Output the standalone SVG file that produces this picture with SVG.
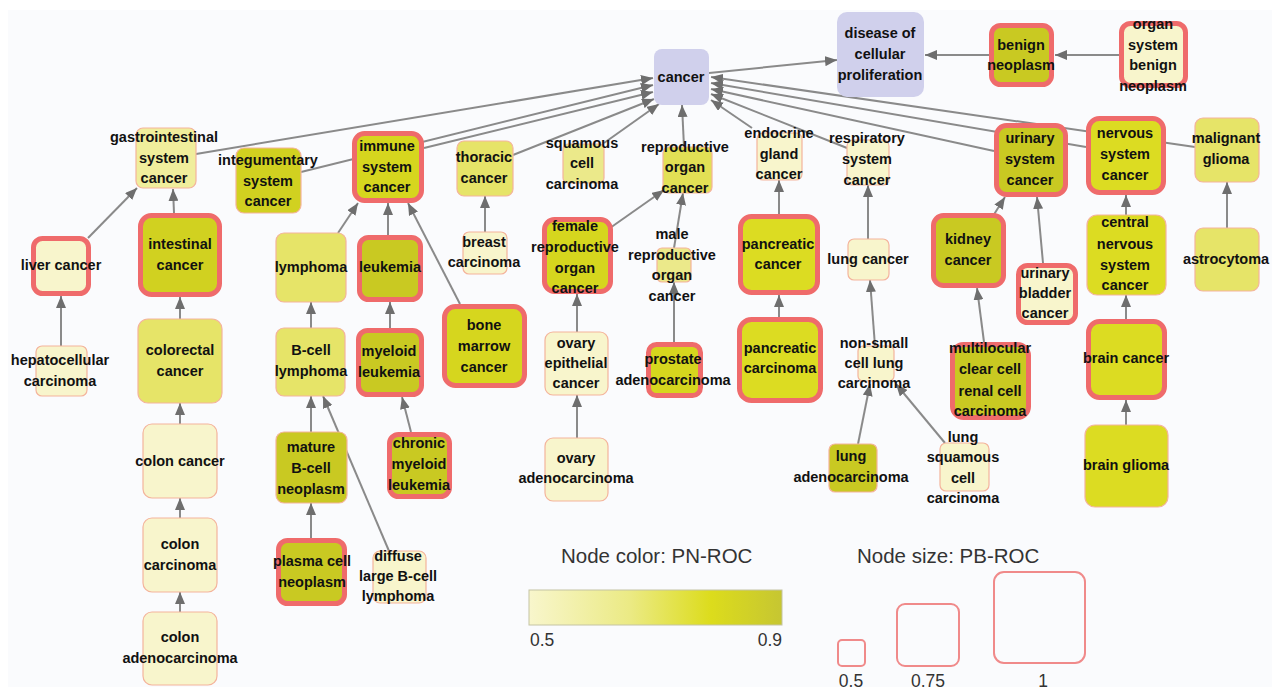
<svg xmlns="http://www.w3.org/2000/svg" width="1277" height="689" viewBox="0 0 1277 689">
<defs>
<style>
.lav{fill:#d0d0ec;stroke:none}
.thin{stroke:#f4b49c;stroke-width:1.2}
.thick{stroke:#ef6b6b;stroke-width:5}
.f0{fill:#f8f5cc}.f1{fill:#f0ee9c}.f2{fill:#ebe98a}.f3{fill:#e6e468}.f4{fill:#e2e055}.f5{fill:#dcdc22}.f6{fill:#d6d61e}.f7{fill:#c9c922}.f8{fill:#d1d120}
.t{font-family:"Liberation Sans",Arial,sans-serif;font-weight:bold;font-size:14.5px;fill:#111;text-anchor:middle}
.lg{font-family:"Liberation Sans",Arial,sans-serif;fill:#333}
#edges line{stroke:#8a8a8a;stroke-width:2;marker-end:url(#ah)}
.sz{fill:none;stroke:#f08a8a;stroke-width:2}
</style>
<marker id="ah" viewBox="0 0 12 10" refX="12" refY="5" markerWidth="12" markerHeight="10" markerUnits="userSpaceOnUse" orient="auto"><path d="M0,0 L12,5 L0,10 z" fill="#6e6e6e"/></marker>
<linearGradient id="grad" x1="0" y1="0" x2="1" y2="0">
<stop offset="0" stop-color="#f8f6cc"/><stop offset="0.4" stop-color="#ebea84"/><stop offset="0.72" stop-color="#dcdc1c"/><stop offset="1" stop-color="#c6c632"/>
</linearGradient>
</defs>
<rect x="0" y="0" width="1277" height="689" fill="#ffffff"/>
<rect x="8" y="10" width="1264" height="677" fill="#fafbfd"/>
<g id="edges">
<line x1="709" y1="73" x2="837" y2="60"/>
<line x1="989" y1="55" x2="925" y2="55"/>
<line x1="1119" y1="55" x2="1055" y2="55"/>
<line x1="196" y1="154" x2="653" y2="78"/>
<line x1="301" y1="172" x2="653" y2="85"/>
<line x1="424" y1="148" x2="653" y2="92"/>
<line x1="513" y1="155" x2="654" y2="99"/>
<line x1="604" y1="143" x2="659" y2="104"/>
<line x1="684" y1="147" x2="682" y2="105"/>
<line x1="752" y1="128" x2="711" y2="100"/>
<line x1="847" y1="148" x2="711" y2="94"/>
<line x1="994" y1="151" x2="711" y2="89"/>
<line x1="1086" y1="147" x2="711" y2="83"/>
<line x1="1195" y1="147" x2="711" y2="77"/>
<line x1="174" y1="213" x2="173" y2="189"/>
<line x1="88" y1="238" x2="137" y2="188"/>
<line x1="61" y1="346" x2="61" y2="296"/>
<line x1="180" y1="319" x2="180" y2="297"/>
<line x1="180" y1="424" x2="180" y2="403"/>
<line x1="180" y1="518" x2="180" y2="498"/>
<line x1="180" y1="612" x2="180" y2="592"/>
<line x1="338" y1="233" x2="358" y2="203"/>
<line x1="388" y1="235" x2="388" y2="203"/>
<line x1="460" y1="304" x2="408" y2="203"/>
<line x1="311" y1="328" x2="311" y2="302"/>
<line x1="390" y1="328" x2="390" y2="302"/>
<line x1="411" y1="432" x2="402" y2="397"/>
<line x1="311" y1="432" x2="311" y2="396"/>
<line x1="311" y1="538" x2="311" y2="503"/>
<line x1="389" y1="551" x2="323" y2="396"/>
<line x1="485" y1="232" x2="485" y2="196"/>
<line x1="610" y1="228" x2="664" y2="190"/>
<line x1="674" y1="248" x2="683" y2="193"/>
<line x1="674" y1="342" x2="674" y2="282"/>
<line x1="577" y1="332" x2="577" y2="294"/>
<line x1="577" y1="438" x2="577" y2="395"/>
<line x1="779" y1="214" x2="779" y2="180"/>
<line x1="779" y1="317" x2="779" y2="295"/>
<line x1="868" y1="239" x2="868" y2="185"/>
<line x1="875" y1="346" x2="870" y2="280"/>
<line x1="858" y1="444" x2="870" y2="384"/>
<line x1="945" y1="443" x2="896" y2="384"/>
<line x1="993" y1="216" x2="1005" y2="197"/>
<line x1="1043" y1="263" x2="1037" y2="197"/>
<line x1="984" y1="342" x2="977" y2="288"/>
<line x1="1126" y1="215" x2="1126" y2="195"/>
<line x1="1126" y1="319" x2="1126" y2="295"/>
<line x1="1126" y1="425" x2="1126" y2="400"/>
<line x1="1227" y1="228" x2="1227" y2="182"/>
</g>
<g id="n-cancer"><rect class="lav" x="654" y="49" width="55" height="56" rx="8"/><text class="t"><tspan x="681" y="82">cancer</tspan></text></g>
<g id="n-disease"><rect class="lav" x="837" y="12" width="87" height="85" rx="10"/><text class="t"><tspan x="880" y="38">disease of</tspan><tspan x="880" y="59">cellular</tspan><tspan x="880" y="80">proliferation</tspan></text></g>
<g id="n-benign"><rect class="f7 thick" x="991.5" y="25.5" width="60" height="59" rx="9"/><text class="t"><tspan x="1021" y="50">benign</tspan><tspan x="1021" y="70">neoplasm</tspan></text></g>
<g id="n-organsys"><rect class="f0 thick" x="1121.5" y="23.5" width="64" height="62" rx="9"/><text class="t"><tspan x="1153" y="29">organ</tspan><tspan x="1153" y="50">system</tspan><tspan x="1153" y="70">benign</tspan><tspan x="1153" y="91">neoplasm</tspan></text></g>
<g id="n-gastro"><rect class="f1 thin" x="136" y="128" width="60" height="60" rx="7"/><text class="t"><tspan x="164" y="142">gastrointestinal</tspan><tspan x="164" y="163">system</tspan><tspan x="164" y="183">cancer</tspan></text></g>
<g id="n-integ"><rect class="f8 thin" x="236" y="148" width="65" height="65" rx="8"/><text class="t"><tspan x="268" y="165">integumentary</tspan><tspan x="268" y="186">system</tspan><tspan x="268" y="206">cancer</tspan></text></g>
<g id="n-immune"><rect class="f6 thick" x="354.5" y="133.5" width="67" height="67" rx="10"/><text class="t"><tspan x="387" y="151">immune</tspan><tspan x="387" y="172">system</tspan><tspan x="387" y="192">cancer</tspan></text></g>
<g id="n-thoracic"><rect class="f3 thin" x="457" y="141" width="56" height="55" rx="7"/><text class="t"><tspan x="484" y="162">thoracic</tspan><tspan x="484" y="183">cancer</tspan></text></g>
<g id="n-squamous"><rect class="f2 thin" x="563" y="144" width="41" height="39" rx="5"/><text class="t"><tspan x="582" y="148">squamous</tspan><tspan x="582" y="168">cell</tspan><tspan x="582" y="189">carcinoma</tspan></text></g>
<g id="n-reproductive"><rect class="f4 thin" x="663" y="147" width="49" height="46" rx="6"/><text class="t"><tspan x="685" y="152">reproductive</tspan><tspan x="685" y="172">organ</tspan><tspan x="685" y="193">cancer</tspan></text></g>
<g id="n-endocrine"><rect class="f0 thin" x="757" y="133" width="45" height="47" rx="6"/><text class="t"><tspan x="779" y="138">endocrine</tspan><tspan x="779" y="159">gland</tspan><tspan x="779" y="179">cancer</tspan></text></g>
<g id="n-respiratory"><rect class="f0 thin" x="847" y="140" width="42" height="45" rx="6"/><text class="t"><tspan x="867" y="143">respiratory</tspan><tspan x="867" y="164">system</tspan><tspan x="867" y="185">cancer</tspan></text></g>
<g id="n-urinary"><rect class="f7 thick" x="996.5" y="125.5" width="69" height="69" rx="10"/><text class="t"><tspan x="1030" y="143">urinary</tspan><tspan x="1030" y="164">system</tspan><tspan x="1030" y="185">cancer</tspan></text></g>
<g id="n-nervous"><rect class="f5 thick" x="1088.5" y="118.5" width="75" height="74" rx="11"/><text class="t"><tspan x="1125" y="138">nervous</tspan><tspan x="1125" y="159">system</tspan><tspan x="1125" y="180">cancer</tspan></text></g>
<g id="n-malignant"><rect class="f3 thin" x="1195" y="118" width="64" height="64" rx="8"/><text class="t"><tspan x="1226" y="143">malignant</tspan><tspan x="1226" y="164">glioma</tspan></text></g>
<g id="n-liver"><rect class="f0 thick" x="33.5" y="238.5" width="55" height="55" rx="9"/><text class="t"><tspan x="61" y="270">liver cancer</tspan></text></g>
<g id="n-intestinal"><rect class="f8 thick" x="140.5" y="215.5" width="79" height="79" rx="11"/><text class="t"><tspan x="180" y="249">intestinal</tspan><tspan x="180" y="270">cancer</tspan></text></g>
<g id="n-hepato"><rect class="f0 thin" x="36" y="346" width="51" height="50" rx="6"/><text class="t"><tspan x="60" y="365">hepatocellular</tspan><tspan x="60" y="386">carcinoma</tspan></text></g>
<g id="n-colorectal"><rect class="f3 thin" x="138" y="319" width="84" height="84" rx="10"/><text class="t"><tspan x="180" y="355">colorectal</tspan><tspan x="180" y="376">cancer</tspan></text></g>
<g id="n-coloncancer"><rect class="f0 thin" x="143" y="424" width="74" height="74" rx="9"/><text class="t"><tspan x="180" y="466">colon cancer</tspan></text></g>
<g id="n-coloncarcinoma"><rect class="f0 thin" x="143" y="518" width="74" height="74" rx="9"/><text class="t"><tspan x="180" y="549">colon</tspan><tspan x="180" y="570">carcinoma</tspan></text></g>
<g id="n-colonadeno"><rect class="f0 thin" x="143" y="612" width="74" height="73" rx="9"/><text class="t"><tspan x="180" y="642">colon</tspan><tspan x="180" y="663">adenocarcinoma</tspan></text></g>
<g id="n-lymphoma"><rect class="f3 thin" x="276" y="233" width="70" height="69" rx="8"/><text class="t"><tspan x="311" y="272">lymphoma</tspan></text></g>
<g id="n-leukemia"><rect class="f7 thick" x="359.5" y="237.5" width="61" height="62" rx="9"/><text class="t"><tspan x="390" y="272">leukemia</tspan></text></g>
<g id="n-bcell"><rect class="f3 thin" x="276" y="328" width="69" height="68" rx="8"/><text class="t"><tspan x="311" y="355">B-cell</tspan><tspan x="311" y="376">lymphoma</tspan></text></g>
<g id="n-myeloid"><rect class="f7 thick" x="358.5" y="330.5" width="63" height="64" rx="9"/><text class="t"><tspan x="389" y="356">myeloid</tspan><tspan x="389" y="377">leukemia</tspan></text></g>
<g id="n-bonemarrow"><rect class="f6 thick" x="444.5" y="306.5" width="80" height="79" rx="11"/><text class="t"><tspan x="484" y="330">bone</tspan><tspan x="484" y="351">marrow</tspan><tspan x="484" y="372">cancer</tspan></text></g>
<g id="n-breast"><rect class="f0 thin" x="463" y="232" width="44" height="42" rx="6"/><text class="t"><tspan x="484" y="247">breast</tspan><tspan x="484" y="267">carcinoma</tspan></text></g>
<g id="n-female"><rect class="f6 thick" x="544.5" y="219.5" width="66" height="72" rx="10"/><text class="t"><tspan x="575" y="231">female</tspan><tspan x="575" y="252">reproductive</tspan><tspan x="575" y="273">organ</tspan><tspan x="575" y="293">cancer</tspan></text></g>
<g id="n-ovaryepi"><rect class="f0 thin" x="545" y="332" width="63" height="63" rx="8"/><text class="t"><tspan x="576" y="348">ovary</tspan><tspan x="576" y="368">epithelial</tspan><tspan x="576" y="388">cancer</tspan></text></g>
<g id="n-ovaryadeno"><rect class="f0 thin" x="545" y="438" width="63" height="63" rx="8"/><text class="t"><tspan x="576" y="463">ovary</tspan><tspan x="576" y="483">adenocarcinoma</tspan></text></g>
<g id="n-chronic"><rect class="f7 thick" x="389.5" y="434.5" width="60" height="62" rx="9"/><text class="t"><tspan x="419" y="448">chronic</tspan><tspan x="419" y="469">myeloid</tspan><tspan x="419" y="490">leukemia</tspan></text></g>
<g id="n-mature"><rect class="f7 thin" x="276" y="432" width="71" height="71" rx="8"/><text class="t"><tspan x="311" y="452">mature</tspan><tspan x="311" y="473">B-cell</tspan><tspan x="311" y="494">neoplasm</tspan></text></g>
<g id="n-plasma"><rect class="f7 thick" x="278.5" y="540.5" width="66" height="63" rx="9"/><text class="t"><tspan x="312" y="566">plasma cell</tspan><tspan x="312" y="587">neoplasm</tspan></text></g>
<g id="n-diffuse"><rect class="f0 thin" x="373" y="551" width="53" height="52" rx="7"/><text class="t"><tspan x="398" y="561">diffuse</tspan><tspan x="398" y="581">large B-cell</tspan><tspan x="398" y="601">lymphoma</tspan></text></g>
<g id="n-male"><rect class="f2 thin" x="657" y="248" width="34" height="34" rx="5"/><text class="t"><tspan x="672" y="239">male</tspan><tspan x="672" y="260">reproductive</tspan><tspan x="672" y="280">organ</tspan><tspan x="672" y="301">cancer</tspan></text></g>
<g id="n-pancancer"><rect class="f5 thick" x="740.5" y="216.5" width="77" height="76" rx="11"/><text class="t"><tspan x="778" y="249">pancreatic</tspan><tspan x="778" y="269">cancer</tspan></text></g>
<g id="n-pancarcinoma"><rect class="f5 thick" x="739.5" y="319.5" width="81" height="81" rx="12"/><text class="t"><tspan x="780" y="353">pancreatic</tspan><tspan x="780" y="373">carcinoma</tspan></text></g>
<g id="n-prostate"><rect class="f6 thick" x="648.5" y="344.5" width="52" height="51" rx="8"/><text class="t"><tspan x="673" y="364">prostate</tspan><tspan x="673" y="385">adenocarcinoma</tspan></text></g>
<g id="n-lungcancer"><rect class="f0 thin" x="848" y="239" width="41" height="41" rx="6"/><text class="t"><tspan x="868" y="264">lung cancer</tspan></text></g>
<g id="n-nonsmall"><rect class="f0 thin" x="858" y="346" width="36" height="35" rx="5"/><text class="t"><tspan x="874" y="348">non-small</tspan><tspan x="874" y="368">cell lung</tspan><tspan x="874" y="388">carcinoma</tspan></text></g>
<g id="n-kidney"><rect class="f7 thick" x="933.5" y="215.5" width="70" height="70" rx="10"/><text class="t"><tspan x="968" y="244">kidney</tspan><tspan x="968" y="265">cancer</tspan></text></g>
<g id="n-multilocular"><rect class="f7 thick" x="952.5" y="344.5" width="76" height="73" rx="11"/><text class="t"><tspan x="990" y="353">multilocular</tspan><tspan x="990" y="374">clear cell</tspan><tspan x="990" y="396">renal cell</tspan><tspan x="990" y="416">carcinoma</tspan></text></g>
<g id="n-bladder"><rect class="f0 thick" x="1018.5" y="265.5" width="57" height="57" rx="9"/><text class="t"><tspan x="1045" y="278">urinary</tspan><tspan x="1045" y="298">bladder</tspan><tspan x="1045" y="318">cancer</tspan></text></g>
<g id="n-central"><rect class="f5 thin" x="1087" y="215" width="79" height="80" rx="10"/><text class="t"><tspan x="1125" y="227">central</tspan><tspan x="1125" y="249">nervous</tspan><tspan x="1125" y="270">system</tspan><tspan x="1125" y="290">cancer</tspan></text></g>
<g id="n-astro"><rect class="f3 thin" x="1195" y="228" width="64" height="63" rx="8"/><text class="t"><tspan x="1226" y="264">astrocytoma</tspan></text></g>
<g id="n-braincancer"><rect class="f5 thick" x="1088.5" y="321.5" width="76" height="76" rx="11"/><text class="t"><tspan x="1126" y="363">brain cancer</tspan></text></g>
<g id="n-brainglioma"><rect class="f5 thin" x="1085" y="425" width="83" height="82" rx="10"/><text class="t"><tspan x="1126" y="470">brain glioma</tspan></text></g>
<g id="n-lungadeno"><rect class="f7 thin" x="829" y="444" width="48" height="48" rx="6"/><text class="t"><tspan x="851" y="461">lung</tspan><tspan x="851" y="482">adenocarcinoma</tspan></text></g>
<g id="n-lungsq"><rect class="f0 thin" x="940" y="443" width="49" height="48" rx="6"/><text class="t"><tspan x="963" y="442">lung</tspan><tspan x="963" y="462">squamous</tspan><tspan x="963" y="483">cell</tspan><tspan x="963" y="503">carcinoma</tspan></text></g>
<g id="legend-color">
<text class="lg" x="561" y="563" font-size="20.5">Node color: PN-ROC</text>
<rect x="529" y="590" width="253" height="35" fill="url(#grad)" stroke="#c4c4a4" stroke-width="1"/>
<text class="lg" x="530" y="646" font-size="17.5">0.5</text>
<text class="lg" x="782" y="646" font-size="17.5" text-anchor="end">0.9</text>
</g>
<g id="legend-size">
<text class="lg" x="857" y="563" font-size="20.5">Node size: PB-ROC</text>
<rect class="sz" x="838" y="640" width="27" height="26" rx="4"/>
<rect class="sz" x="897" y="604" width="62" height="62" rx="8"/>
<rect class="sz" x="994" y="572" width="91" height="91" rx="10"/>
<text class="lg" x="851" y="687" font-size="17.5" text-anchor="middle">0.5</text>
<text class="lg" x="928" y="687" font-size="17.5" text-anchor="middle">0.75</text>
<text class="lg" x="1043" y="687" font-size="17.5" text-anchor="middle">1</text>
</g>
</svg>
